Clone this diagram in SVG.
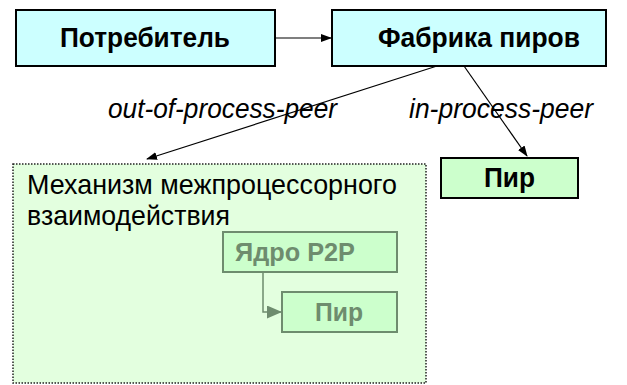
<svg xmlns="http://www.w3.org/2000/svg" width="627" height="385" viewBox="0 0 627 385">
<style>
.t{font-family:"Liberation Sans",Arial,sans-serif}
.b{font-weight:bold;font-size:27px;fill:#000}
.lbl{font-style:italic;font-size:27px;fill:#000}
.box{fill:#CCFFFF;stroke:#000;stroke-width:2}
.pir{fill:#CCFFCC;stroke:#000;stroke-width:2}
.f{fill:#CCFFCC;stroke:#6E8C6E;stroke-width:2}
.ft{font-weight:bold;font-size:26px;fill:#6E8C6E}
.c{stroke:#000;stroke-width:1.2;fill:none}
</style>
<defs>
<marker id="ah" markerWidth="11" markerHeight="8" refX="10" refY="4" orient="auto" markerUnits="userSpaceOnUse">
<path d="M0,0 L11,4 L0,8 Z" fill="#000"/>
</marker>
<marker id="ahg" markerWidth="15" markerHeight="13" refX="14" refY="6.5" orient="auto" markerUnits="userSpaceOnUse">
<path d="M0,0 L15,6.5 L0,13 Z" fill="#6E8C6E"/>
</marker>
</defs>
<g id="mech">
<rect x="13" y="164" width="413" height="219" fill="#E3FFDF" stroke="#222" stroke-width="1.5" stroke-dasharray="1.5,1.5"/>
<text class="t" x="27" y="194" font-size="28" textLength="370" lengthAdjust="spacingAndGlyphs">Механизм межпроцессорного</text>
<text class="t" x="27" y="225" font-size="28" textLength="203" lengthAdjust="spacingAndGlyphs">взаимодействия</text>
</g>
<g id="core">
<rect class="f" x="223" y="232" width="174" height="40"/>
<text class="t ft" x="235" y="261" textLength="120" lengthAdjust="spacingAndGlyphs">Ядро P2P</text>
</g>
<g id="innerpeer">
<rect class="f" x="282" y="292" width="115" height="40"/>
<text class="t ft" x="315" y="321" textLength="48" lengthAdjust="spacingAndGlyphs">Пир</text>
</g>
<g id="consumer">
<rect class="box" x="16" y="10" width="259" height="56"/>
<text class="t b" x="60" y="47" textLength="170" lengthAdjust="spacingAndGlyphs">Потребитель</text>
</g>
<g id="factory">
<rect class="box" x="332" y="10" width="274" height="56"/>
<text class="t b" x="378" y="47" textLength="202" lengthAdjust="spacingAndGlyphs">Фабрика пиров</text>
</g>
<g id="peer">
<rect class="pir" x="441" y="158" width="137" height="40"/>
<text class="t b" x="484" y="187" font-size="26" textLength="51" lengthAdjust="spacingAndGlyphs">Пир</text>
</g>
<g id="connectors">
<line class="c" x1="275" y1="38" x2="331" y2="38" marker-end="url(#ah)"/>
<line class="c" x1="437" y1="66" x2="147" y2="159" marker-end="url(#ah)"/>
<line class="c" x1="464" y1="66" x2="527" y2="156" marker-end="url(#ah)"/>
<polyline points="263,272 263,312 281,312" stroke="#6E8C6E" stroke-width="1.5" fill="none" marker-end="url(#ahg)"/>
<text class="t lbl" x="108" y="118" textLength="229" lengthAdjust="spacingAndGlyphs">out-of-process-peer</text>
<text class="t lbl" x="409" y="118" textLength="184" lengthAdjust="spacingAndGlyphs">in-process-peer</text>
</g>
</svg>
